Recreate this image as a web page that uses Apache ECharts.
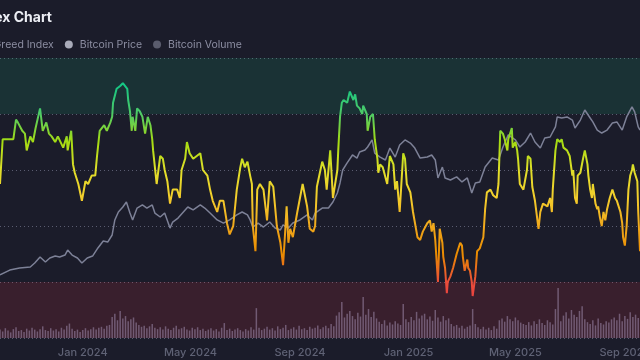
<!DOCTYPE html>
<html><head><meta charset="utf-8">
<script src="https://cdn.jsdelivr.net/npm/echarts@6/dist/echarts.min.js"></script>
<style>html,body{margin:0;padding:0;background:#1b1c2a;}#c{width:640px;height:360px;}</style>
</head><body><div id="c"></div>
<script>
// ---- data ----
const startDate = '2023-09-30';          // day 0 of the x axis
const endDay = 719;                      // last day shown (offset from startDate)
const tickDates = ['2024-01-01','2024-05-01','2024-09-01','2025-01-01','2025-05-01','2025-09-01'];
const monthNames = ['Jan','Feb','Mar','Apr','May','Jun','Jul','Aug','Sep','Oct','Nov','Dec'];
const seriesNames = ['Fear & Greed Index','Bitcoin Price','Bitcoin Volume'];

// Fear & Greed index: day offset from startDate, value 0-100
const fgDays = [
  0,3,9,15,18,20,25,28,30,34,
  37,40,45,48,52,55,58,62,65,71,
  75,76,80,82,84,88,92,96,99,103,
  107,109,112,117,120,124,126,127,131,135,
  138,140,143,144,146,148,149,152,154,157,
  160,163,166,169,171,172,174,176,180,183,
  185,188,191,194,199,202,204,208,210,213,
  217,221,225,228,233,236,239,244,247,251,
  255,258,262,266,270,272,275,278,281,283,
  284,287,289,292,296,300,303,307,311,315,
  318,320,322,324,326,329,334,337,340,345,
  348,352,354,356,360,362,365,367,371,373,
  374,379,380,382,384,386,390,393,397,399,
  401,404,407,408,412,413,416,419,421,424,
  425,427,430,435,438,442,444,446,449,453,
  455,457,461,464,469,472,475,480,483,485,
  487,489,491,492,494,497,498,500,502,503,
  506,509,513,517,519,520,522,525,526,528,
  530,531,534,536,539,543,545,547,551,554,
  558,560,562,565,567,570,571,575,576,579,
  581,582,584,588,592,593,596,598,601,605,
  607,610,615,618,620,621,624,626,629,631,
  633,637,640,643,644,646,648,649,652,655,
  657,660,661,663,665,666,669,671,672,674,
  676,678,680,682,685,688,689,691,693,694,
  697,699,700,702,704,706,708,710,711,713,
  716,717,719
];
const fgValues = [
  55,71,71,71,78,77,74,73,67,72,
  70,75,82,74,77,73,72,70,72,68,
  72,67,74,62,59,55,49,56,55,58,
  58,65,74,76,74,77,79,84,89,90,
  91,91,89,85,81,74,79,74,82,81,
  79,73,79,76,71,67,61,55,65,64,
  60,56,48,53,53,50,60,64,70,66,
  64,65,66,60,58,53,49,45,49,49,
  41,37,40,53,61,64,61,63,58,55,
  40,31,53,55,53,42,56,54,40,34,
  26,36,47,34,39,36,45,50,55,47,
  39,38,40,54,60,63,60,53,67,56,
  50,60,67,79,84,85,84,88,85,87,
  83,82,80,83,80,74,79,80,71,64,
  59,62,61,55,65,62,53,56,45,66,
  64,55,52,45,36,35,38,41,42,38,
  41,35,25,20,39,34,29,25,16,20,
  22,25,30,34,33,29,24,28,25,24,
  20,15,22,31,32,36,46,52,53,51,
  50,55,74,73,71,67,71,75,68,70,
  67,64,55,53,60,65,64,54,49,39,
  45,48,47,50,45,53,67,71,70,71,
  68,67,65,58,60,50,48,58,59,64,
  67,62,58,53,50,55,48,46,47,43,
  40,45,42,46,50,53,52,50,49,48,
  45,41,36,33,40,53,58,60,62,59,
  56,45,31
];

// Bitcoin price (thousand USD)
const priceDays = [
  0,11,22,34,39,45,51,56,62,67,
  73,76,81,87,92,98,104,110,116,121,
  126,129,133,138,142,146,149,154,160,165,
  171,174,180,185,191,194,200,206,211,217,
  225,230,236,244,251,258,266,272,278,281,
  284,290,296,303,309,315,318,324,329,337,
  345,351,354,362,369,374,379,382,385,390,
  396,401,404,410,413,418,421,427,433,438,
  444,449,455,461,466,472,480,485,489,492,
  497,500,506,513,519,525,530,534,539,545,
  553,560,565,571,579,584,590,596,601,607,
  612,618,624,626,631,637,643,646,652,657,
  663,666,671,676,682,688,693,699,704,710,
  713,717,719
];
const btcPriceK = [
  26.5,29.3,30.5,31.1,33.4,36.9,34.0,36.3,37.4,36.9,
  38.0,40.9,38.0,36.3,33.4,36.3,37.4,42.1,46.1,45.5,
  49.6,58.3,62.9,65.8,68.7,62.3,58.3,65.2,67.0,65.2,
  67.0,62.3,60.0,62.3,53.6,57.1,59.4,62.9,65.8,64.1,
  67.0,65.2,62.3,58.3,56.5,58.3,61.2,62.9,61.2,58.3,
  54.2,56.5,54.2,57.1,53.6,52.5,55.4,53.6,56.5,58.3,
  61.2,58.3,62.3,65.2,65.2,68.7,73.9,79.7,87.2,91.3,
  95.9,94.1,97.6,98.8,100.5,104.6,97.0,94.7,93.0,99.9,
  94.7,101.7,104.6,102.8,99.9,94.1,94.7,95.9,93.0,82.6,
  88.9,82.6,81.4,83.2,80.3,82.6,73.9,79.7,80.3,88.9,
  94.1,93.0,100.5,107.5,104.6,100.5,103.4,108.6,103.4,99.9,
  105.7,106.3,112.1,117.9,117.3,117.9,116.1,111.5,116.1,121.9,
  117.3,115.0,110.3,108.6,110.3,114.4,115.0,110.3,117.9,123.7,
  120.8,112.1,110.3
];

// Bitcoin volume (billion USD), one value every 3 days from startDate
const volumeStepDays = 3;
const btcVolumeB = [
  18,14,21,16,12,19,23,15,17,13,20,16,22,18,14,19,25,17,15,21,
  16,19,14,22,18,26,31,20,15,18,13,17,21,16,19,23,18,22,24,20,
  26,28,45,52,38,58,42,47,36,40,44,33,28,24,26,21,25,30,22,19,
  23,18,25,20,17,22,26,19,21,24,18,16,22,19,23,17,20,15,18,21,
  16,19,14,22,32,17,20,15,18,21,17,14,19,16,23,18,64,22,17,20,
  24,18,21,16,25,19,22,28,17,20,23,18,26,19,21,17,24,20,22,27,
  19,23,26,21,30,25,48,55,77,44,52,58,47,40,54,46,88,50,62,45,
  56,42,35,30,38,27,33,29,36,31,28,73,40,34,45,38,56,42,48,52,
  40,46,37,60,44,35,47,38,42,30,25,28,22,26,20,24,27,62,30,23,
  19,24,18,22,17,25,20,38,42,35,47,40,36,44,38,33,30,28,34,27,
  36,30,40,32,28,38,34,29,62,107,36,48,55,42,60,50,45,58,68,40,
  34,30,38,27,42,32,29,36,33,40,44,38,52,36,47,41,55,45,50,43
];

// ---- build ----
const DAY = 864e5;
const t0 = Date.parse(startDate + 'T00:00:00Z');
const fgData = fgDays.map((d, i) => [d, fgValues[i]]);
const priceData = priceDays.map((d, i) => [d, btcPriceK[i]]);
const volData = btcVolumeB.map((v, i) => [i * volumeStepDays, v]);
const tickDays = tickDates.map(s => Math.round((Date.parse(s + 'T00:00:00Z') - t0) / DAY));
const dayLabel = v => { const d = new Date(t0 + v * DAY); return monthNames[d.getUTCMonth()] + ' ' + d.getUTCFullYear(); };

const FONT = 'Inter, "Noto Sans", sans-serif';
const LEG_FS = 10.5;
const cv = document.createElement('canvas').getContext('2d');
cv.font = LEG_FS + 'px Inter';
const firstLegendW = cv.measureText(seriesNames[0]).width;

const chart = echarts.init(document.getElementById('c'));
chart.setOption({
  backgroundColor: '#1b1c2a',
  animation: false,
  textStyle: { fontFamily: FONT },
  graphic: [{
    type: 'text', x: 52, y: 18,
    style: { text: 'Fear & Greed Index Chart', align: 'right', verticalAlign: 'middle',
      fill: '#eceef4', font: 'bold 14px Inter' }
  }],
  legend: {
    left: Math.round(51 - firstLegendW - 17), top: 39,
    icon: 'circle', itemWidth: 12, itemHeight: 8, itemGap: 11, padding: [0, 5],
    textStyle: { color: '#8c8ea2', fontSize: LEG_FS, fontFamily: 'Inter' },
    data: [
      { name: seriesNames[0], itemStyle: { color: '#93d900' } },
      { name: seriesNames[1], itemStyle: { color: '#a9abb9' } },
      { name: seriesNames[2], itemStyle: { color: '#5a5c6d' } }
    ]
  },
  grid: { left: 0, right: 0, top: 58, bottom: 22, outerBoundsMode: 'none', containLabel: false },
  xAxis: {
    type: 'value', min: 0, max: endDay,
    axisLine: { show: false }, axisTick: { show: false }, splitLine: { show: false },
    axisLabel: {
      customValues: tickDays,
      formatter: dayLabel, hideOverlap: false,
      color: '#5f6275', fontSize: 11, fontWeight: 500, margin: 9, fontFamily: 'Inter'
    }
  },
  yAxis: [
    { type: 'value', min: 0, max: 100, interval: 20,
      axisLabel: { show: false }, axisLine: { show: false }, axisTick: { show: false },
      splitLine: { lineStyle: { color: '#5a5c70', type: [1, 3], width: 1 } } },
    { type: 'value', min: -10, max: 152, show: false, splitLine: { show: false } },
    { type: 'value', min: 0, max: 600, show: false, splitLine: { show: false } }
  ],
  visualMap: {
    type: 'continuous', show: false, seriesIndex: 0, dimension: 1, min: 0, max: 100,
    inRange: { color: ['#ea3943','#ea3943','#ea4d3a','#ea8c00','#f0a81c','#f3cd2c','#e0df2a','#a6dc12','#4fcb66','#16c784','#16c784'] }
  },
  series: [
    { name: seriesNames[0], type: 'line', yAxisIndex: 0, data: fgData, showSymbol: false,
      lineStyle: { width: 2 }, z: 5,
      markArea: { silent: true, data: [
        [{ yAxis: 80, itemStyle: { color: 'rgba(22,199,132,0.13)' } }, { yAxis: 100 }],
        [{ yAxis: 0, itemStyle: { color: 'rgba(234,57,67,0.15)' } }, { yAxis: 20 }]
      ] } },
    { name: seriesNames[1], type: 'line', yAxisIndex: 1, data: priceData, showSymbol: false,
      lineStyle: { width: 1.5, color: '#7d8197' }, itemStyle: { color: '#a9abb9' }, z: 4 },
    { name: seriesNames[2], type: 'bar', yAxisIndex: 2, data: volData, barWidth: 1.5,
      itemStyle: { color: 'rgba(170,150,185,0.5)' }, z: 3 }
  ]
});
</script></body></html>
